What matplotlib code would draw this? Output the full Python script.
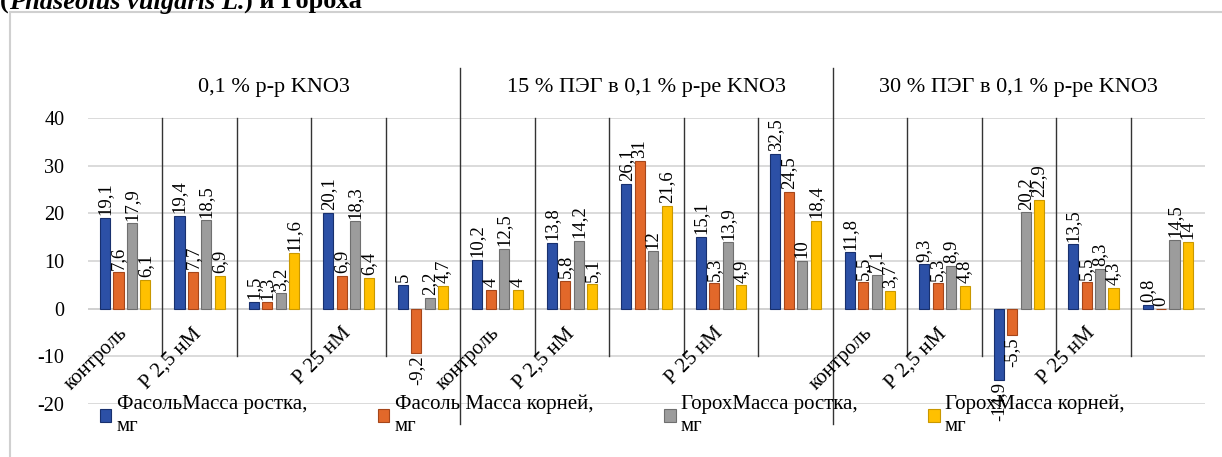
import numpy as np
import matplotlib.pyplot as plt
from matplotlib.patches import Rectangle

plt.rcParams['font.family'] = ['Liberation Serif', 'DejaVu Serif']
plt.rcParams['axes.unicode_minus'] = False

# categories: 3 solutions x 5 treatments
sections = ['0,1 % р-р KNO3', '15 % ПЭГ в 0,1 % р-ре KNO3', '30 % ПЭГ в 0,1 % р-ре KNO3']
treatments = ['контроль', 'Р 2,5 нМ', '', 'Р 25 нМ', '']

bean_shoot = [19.1, 19.4, 1.5, 20.1, 5, 10.2, 13.8, 26.1, 15.1, 32.5, 11.8, 9.3, -14.9, 13.5, 0.8]
bean_root = [7.6, 7.7, 1.3, 6.9, -9.2, 4, 5.8, 31, 5.3, 24.5, 5.5, 5.3, -5.5, 5.5, 0]
pea_shoot = [17.9, 18.5, 3.2, 18.3, 2.2, 12.5, 14.2, 12, 13.9, 10, 7.1, 8.9, 20.2, 8.3, 14.5]
pea_root = [6.1, 6.9, 11.6, 6.4, 4.7, 4, 5.1, 21.6, 4.9, 18.4, 3.7, 4.8, 22.9, 4.3, 14]

series = [bean_shoot, bean_root, pea_shoot, pea_root]
names = ['ФасольМасса ростка,\nмг', 'Фасоль Масса корней,\nмг',
         'ГорохМасса ростка,\nмг', 'ГорохМасса корней,\nмг']
colors = ['#2C50A6', '#E2682A', '#9C9C9C', '#FFC000']
edges = ['#18306E', '#A5461A', '#6F6F6F', '#C99800']


def fmt(v):
    s = ('%.1f' % v).rstrip('0').rstrip('.')
    return s.replace('.', ',')


fig = plt.figure(figsize=(12.22, 4.57), dpi=100)
ax = fig.add_axes([88 / 1222, 1 - 404 / 457, 1117 / 1222, 286 / 457])

# outer chart frame
fig.patches.append(Rectangle((10 / 1222, -0.1), 1.2, 1 - 12 / 457 + 0.1,
                             transform=fig.transFigure, fill=False,
                             edgecolor='#d0d0d0', linewidth=1.5))

n = len(bean_shoot)
x = np.arange(n) + 0.5
pitch = 0.181
width = 0.135
for i, (vals, c, e, name) in enumerate(zip(series, colors, edges, names)):
    xs = x + (i - 1.5) * pitch
    ax.bar(xs, vals, width=width, color=c, edgecolor=e, linewidth=0.8,
           label=name, zorder=3)
    for xi, v in zip(xs, vals):
        if v < 0:
            ax.annotate(fmt(v), (xi, v), xytext=(0, -2), textcoords='offset points',
                        rotation=90, ha='center', va='top', fontsize=13.5, zorder=4)
        else:
            ax.annotate(fmt(v), (xi, v), xytext=(0, 2), textcoords='offset points',
                        rotation=90, ha='center', va='bottom', fontsize=13.5, zorder=4)

ax.set_xlim(0, n)
ax.set_ylim(-20, 40)
ax.set_yticks(range(-20, 41, 10))
ax.tick_params(axis='y', length=0, labelsize=14.5, pad=17)
ax.set_xticks([])
for s in ax.spines.values():
    s.set_visible(False)
ax.grid(axis='y', color='#d4d4d4', linewidth=1.2, zorder=0)
ax.axhline(0, color='#bdbdbd', linewidth=1.2, zorder=1)

# dividers between treatments and between solutions
for k in range(1, n):
    if k % 5 == 0:
        ax.plot([k, k], [50.5, -24.3], color='#333333', linewidth=1, clip_on=False, zorder=2)
    else:
        ax.plot([k, k], [40, -10], color='#333333', linewidth=1, clip_on=False, zorder=2)

# treatment labels
for k in range(n):
    lab = treatments[k % 5]
    if lab:
        ax.text(k + 0.5 - 0.1, -3.2, lab, rotation=45, rotation_mode='anchor',
                ha='right', va='top', fontsize=15, zorder=5)

# solution headers
for j, sec in enumerate(sections):
    ax.text(j * 5 + 2.5, 46.5, sec, ha='center', va='center', fontsize=16,
            clip_on=False)

ax.legend(loc='upper left', bbox_to_anchor=(100 / 1222, 1 - 395 / 457),
          bbox_transform=fig.transFigure, ncol=4, frameon=False, fontsize=15,
          handlelength=0.55, handleheight=0.55, handletextpad=0.25,
          columnspacing=3.4, labelspacing=0, borderpad=0, borderaxespad=0)

# cut-off title line above the chart
ty = 1 - 9 / 457
t1 = fig.text(0.0, ty, '(', fontsize=19, fontweight='bold', va='baseline')
fig.canvas.draw()
r = fig.canvas.get_renderer()
bb = t1.get_window_extent(r)
t2 = fig.text(bb.x1 / 1222, ty, 'Phaseolus vulgaris L.', fontsize=19,
              fontweight='bold', fontstyle='italic', va='baseline')
bb = t2.get_window_extent(r)
fig.text(bb.x1 / 1222, ty, ') и Гороха', fontsize=19, fontweight='bold',
         va='baseline')

fig.savefig('out.png', dpi=100)
